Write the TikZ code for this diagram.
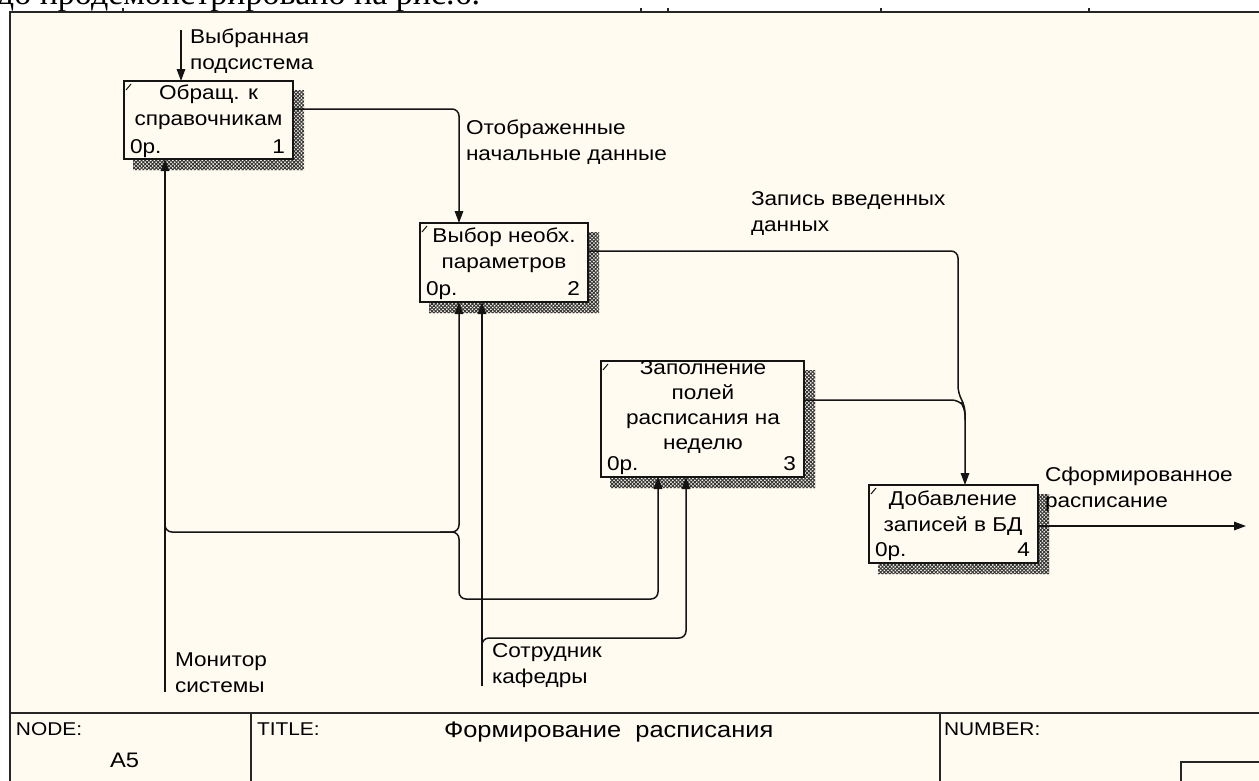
\documentclass[tikz,border=0pt]{standalone}
\usepackage{fontspec}
\setmainfont{Liberation Sans}[FakeStretch=1.13]
\newfontfamily\serifru{Liberation Serif}
\usetikzlibrary{arrows.meta,patterns.meta}
\definecolor{paper}{RGB}{255,251,240}
\definecolor{ink}{RGB}{20,20,20}
\begin{document}
\begin{tikzpicture}[x=1pt,y=-1pt,
  every node/.style={inner sep=0pt,outer sep=0pt},
  lbl/.style={anchor=base west,align=left,font=\fontsize{20}{26}\selectfont},
  btxt/.style={anchor=base,align=center,font=\fontsize{20}{25.5}\selectfont},
  cost/.style={anchor=base west,font=\fontsize{20}{25}\selectfont},
  num/.style={anchor=base east,font=\fontsize{20}{25}\selectfont},
  fbox/.style={draw=ink,line width=1.8pt,fill=paper,rectangle,anchor=north west},
  shadowfill/.style={pattern={Lines[angle=45,distance=2.6pt,line width=1pt]},pattern color=black!80},
  shadowfill2/.style={pattern={Lines[angle=-45,distance=2.6pt,line width=1pt]},pattern color=black!80},
  flow/.style={draw=ink,line width=1.5pt,rounded corners=7pt},
  flowa/.style={flow,-{Triangle[length=12pt,width=8.5pt]}},
  frame/.style={draw=black!85,line width=2.2pt},
  tb/.style={anchor=base west,font=\fontsize{18.5}{23}\selectfont}]
\useasboundingbox (0,0) rectangle (1259,780);
\fill[white] (0,0) rectangle (1259,780);
\fill[paper] (10,12) rectangle (1262,782);
% cropped text above the frame
\begin{scope}
\clip (-5,0) rectangle (1262,11);
\node[anchor=base west,font=\serifru\fontsize{34}{36}\selectfont] (toptext) at (-3,4) {до продемонстрировано на рис.6.};
\end{scope}
% frame
\draw[frame] (10,782) -- (10,12) -- (1262,12);
\foreach \tx in {123,641,668,881,1089} \draw[black!85,line width=1.2pt] (\tx,12) -- (\tx,8);
\draw[frame] (10,713) -- (1262,713);
\draw[frame] (251,713) -- (251,782);
\draw[frame] (940,713) -- (940,782);
\draw[frame] (1262,762) -- (1181,762) -- (1181,782);
\node[tb] (nodelbl) at (16,735) {NODE:};
\node[tb] (titlelbl) at (257,735) {TITLE:};
\node[tb] (numlbl) at (944,735) {NUMBER:};
\node[anchor=base west,font=\fontsize{22.5}{24}\selectfont] (title) at (444,737) {Формирование\ \ расписания};
\node[anchor=base west,font=\fontsize{21}{24}\selectfont] (nodeid) at (110,767) {A5};
% shadows
\foreach \l/\t/\r/\b in {124/81/293/159, 420/223/588/302, 601/361/804/477, 869/485/1038/563}{
  \path[shadowfill] (\r,\t+9) -- (\r+11,\t+9) -- (\r+11,\b+11) -- (\l+9,\b+11) -- (\l+9,\b) -- (\r,\b) -- cycle;
  \path[shadowfill2] (\r,\t+9) -- (\r+11,\t+9) -- (\r+11,\b+11) -- (\l+9,\b+11) -- (\l+9,\b) -- (\r,\b) -- cycle;
}
% boxes
\node[fbox,minimum width=169pt,minimum height=78pt] (b1) at (124,81) {};
\node[fbox,minimum width=168pt,minimum height=79pt] (b2) at (420,223) {};
\node[fbox,minimum width=203pt,minimum height=116pt] (b3) at (601,361) {};
\node[fbox,minimum width=169pt,minimum height=78pt] (b4) at (869,485) {};
\foreach \b in {b1,b2,b3,b4}{
  \draw[ink,line width=1pt] ([shift={(2,9)}]\b.north west) -- ([shift={(7,3)}]\b.north west);
}
\node[btxt] (t1) at (208.5,125) {Обращ. к\\справочникам};
\node[btxt] (t2) at (504,268) {Выбор необх.\\параметров};
\node[btxt,font=\fontsize{20}{24.7}\selectfont] (t3) at (703,449) {Заполнение\\полей\\расписания на\\неделю};
\node[btxt] (t4) at (953,531) {Добавление\\записей в БД};
\node[cost] (c1) at (130,153) {0р.};  \node[num] (n1) at (285,153) {1};
\node[cost] (c2) at (426,295) {0р.};  \node[num] (n2) at (580,295) {2};
\node[cost] (c3) at (607,470) {0р.};  \node[num] (n3) at (796,470) {3};
\node[cost] (c4) at (875,556) {0р.};  \node[num] (n4) at (1030,556) {4};
% labels
\node[lbl] (lsel) at (190,69) {Выбранная\\подсистема};
\node[lbl] (lshow) at (466,160) {Отображенные\\начальные данные};
\node[lbl] (lrec) at (751,231) {Запись введенных\\данных};
\node[lbl] (lres) at (1045,507) {Сформированное\\расписание};
\node[lbl] (lmon) at (175,692) {Монитор\\системы};
\node[lbl] (lstaff) at (492,683) {Сотрудник\\кафедры};
% connectors
\coordinate (inSel) at (181,30);
\coordinate (mon) at (165,692);
\coordinate (staff) at (482,686);
\coordinate (outRes) at (1246,526);
\draw[flowa] (inSel) -- (inSel |- b1.north);
\draw[flowa] (b1.east |- 0,109) -- (459,109) -- (b2.north -| 459,0);
\draw[flowa] (b2.east |- 0,251) -- (958,251) -- (958,393) -- (965,406) -- (b4.north -| 965,0);
\draw[flow] (b3.east |- 0,400) -- (959,400) -- (965,408) -- (965,420);
\draw[flowa] (b4.east |- 0,526) -- (outRes);
\draw[flowa] (mon) -- (mon |- b1.south);
\draw[flowa] (165,520) -- (165,532) -- (459,532) -- (b2.south -| 459,0);
\draw[flowa] (440,532) -- (459,532) -- (459,599) -- (658,599) -- (b3.south -| 658,0);
\draw[flowa] (staff) -- (staff |- b2.south);
\draw[flowa] (482,652) -- (482,638) -- (686,638) -- (b3.south -| 686,0);
\end{tikzpicture}
\end{document}
